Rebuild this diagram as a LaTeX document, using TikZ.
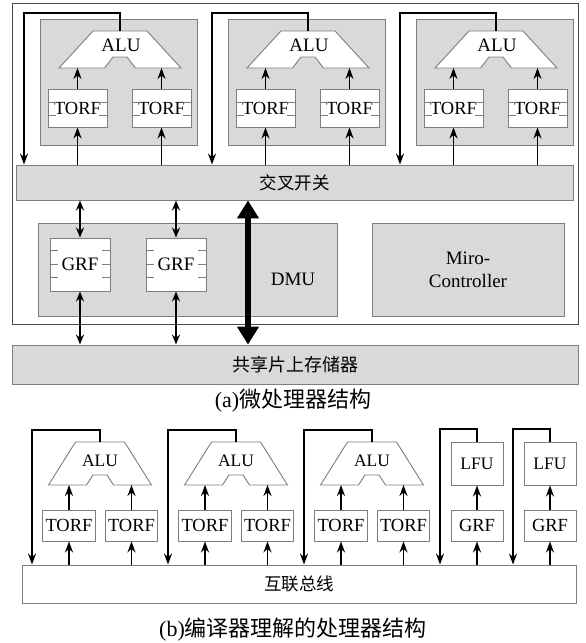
\documentclass[tikz,border=0pt]{standalone}
\usepackage{fontspec}
\setmainfont{Liberation Serif}
\newfontfamily\cjk{Noto Sans CJK SC}
\usetikzlibrary{arrows.meta,calc}
\definecolor{gfill}{RGB}{217,217,217}
\definecolor{bord}{RGB}{125,125,125}
\definecolor{framec}{RGB}{70,70,70}
\tikzset{
  lat/.style={font=\fontsize{19}{23}\selectfont},
  cjkf/.style={font=\cjk\fontsize{17.5}{20}\selectfont},
  capf/.style={font=\fontsize{22}{24}\selectfont},
  regbox/.style={draw=bord, fill=white, line width=0.9pt, inner sep=0pt, font=\fontsize{18.5}{20}\selectfont},
  panel/.style={draw=bord, fill=gfill, line width=0.9pt, inner sep=0pt},
  ghost/.style={inner sep=0pt, outer sep=0pt},
  tick/.style={draw=bord, line width=0.8pt},
  trap/.style={draw=bord, fill=white, line width=0.9pt},
  arr/.style={line width=1.7pt, -{Stealth[length=11pt,width=8pt]}},
  darr/.style={line width=1.5pt, {Stealth[length=10pt,width=8pt]}-{Stealth[length=10pt,width=8pt]}},
  bigarr/.style={line width=6pt, {Triangle[length=18pt,width=21pt]}-{Triangle[length=18pt,width=21pt]}},
}
\begin{document}
\begin{tikzpicture}[x=1pt,y=-1pt]
\useasboundingbox (0,0) rectangle (586,643);
\fill[white] (0,0) rectangle (586,643);

% ---------------- part (a) ----------------
\node[draw=framec, fill=white, line width=1pt, minimum width=566pt, minimum height=321pt, inner sep=0pt] (frameA) at (295,163.5) {};
\node[panel, minimum width=557pt, minimum height=35pt, cjkf] (xbar) at (294.5,182.5) {交叉开关};

\foreach \k/\dx in {1/0,2/188,3/376}{
  \node[panel, minimum width=157pt, minimum height=126pt] (cl\k) at (118.5+\dx,82) {};
  \node[ghost, minimum width=122pt, minimum height=37pt] (alub\k) at (120+\dx,49.5) {};
  \draw[trap] (120+\dx-27,31) -- (120+\dx+27,31) -- (120+\dx+61,68) -- (120+\dx+15.5,68)
     -- (120+\dx+7,57) -- (120+\dx-7,57) -- (120+\dx-15.5,68) -- (120+\dx-61,68) -- cycle;
  \node[lat] (alut\k) at (121+\dx,45.5) {ALU};
  \node[regbox, minimum width=59pt, minimum height=38pt] (ta\k) at (77.5+\dx,108) {TORF};
  \node[regbox, minimum width=59pt, minimum height=38pt] (tb\k) at (161.5+\dx,108) {TORF};
  \foreach \n in {ta\k,tb\k}{
    \foreach \f in {0.35,0.7}{
      \draw[tick] ($(\n.north west)!\f!(\n.south west)$) -- ++(8,0);
      \draw[tick] ($(\n.north east)!\f!(\n.south east)$) -- ++(-8,0);
    }
    \draw[arr] (xbar.north -| \n) -- (\n.south);
    \draw[arr] (\n.north) -- (\n.north |- alub\k.south);
  }
  \coordinate (fb\k) at (24+\dx,13);
  \draw[arr] (alub\k.north) |- (fb\k) -- (fb\k |- xbar.north);
}

\node[panel, minimum width=299pt, minimum height=93pt] (dmu) at (187.5,269.5) {};
\node[lat] (dmut) at (293,279) {DMU};
\node[regbox, minimum width=60pt, minimum height=53pt, lat] (g1) at (80,264.5) {GRF};
\node[regbox, minimum width=60pt, minimum height=53pt, lat] (g2) at (176,264.5) {GRF};
\node[panel, minimum width=192pt, minimum height=93pt, align=center, lat] (mc) at (468,269.5) {Miro-\\Controller};
\node[panel, minimum width=566pt, minimum height=39pt, font=\cjk\fontsize{18}{20}\selectfont] (mem) at (295,364.5) {共享片上存储器};

\foreach \n in {g1,g2}{
  \foreach \f in {0.23,0.49,0.74}{
    \draw[tick] ($(\n.north west)!\f!(\n.south west)$) -- ++(8,0);
    \draw[tick] ($(\n.north east)!\f!(\n.south east)$) -- ++(-8,0);
  }
  \draw[darr] (xbar.south -| \n) -- (\n.north);
  \draw[darr] (\n.south) -- (mem.north -| \n);
}
\coordinate (bx) at (248,0);
\draw[bigarr] (xbar.south -| bx) -- (mem.north -| bx);

\node[capf] (capA) at (293,401) {(a){\cjk 微处理器结构}};

% ---------------- part (b) ----------------
\node[regbox, minimum width=554pt, minimum height=38pt, font=\cjk\fontsize{17.5}{20}\selectfont] (bus) at (299,584) {互联总线};

\foreach \k/\dx in {1/0,2/136,3/272}{
  \node[ghost, minimum width=103pt, minimum height=43pt] (balu\k) at (100+\dx,463.5) {};
  \draw[trap] (100+\dx-24.5,442) -- (100+\dx+24.5,442) -- (100+\dx+51.5,485) -- (100+\dx+13.5,485)
     -- (100+\dx+7,475) -- (100+\dx-7,475) -- (100+\dx-13.5,485) -- (100+\dx-51.5,485) -- cycle;
  \node[font=\fontsize{17.5}{20}\selectfont] (balut\k) at (100+\dx,461) {ALU};
  \node[regbox, minimum width=53pt, minimum height=31pt] (bta\k) at (69+\dx,525.5) {TORF};
  \node[regbox, minimum width=52pt, minimum height=31pt] (btb\k) at (131.5+\dx,525.5) {TORF};
  \foreach \n in {bta\k,btb\k}{
    \draw[arr] (bus.north -| \n) -- (\n.south);
    \draw[arr] (\n.north) -- (\n.north |- balu\k.south);
  }
  \coordinate (bfb\k) at (32+\dx,430);
  \draw[arr] (balu\k.north) |- (bfb\k) -- (bfb\k |- bus.north);
}

\foreach \k/\x/\fx in {1/477/440,2/550/513}{
  \node[regbox, minimum width=52pt, minimum height=43pt, font=\fontsize{17.5}{20}\selectfont] (lfu\k) at (\x,463.5) {LFU};
  \node[regbox, minimum width=52pt, minimum height=31pt] (lg\k) at (\x,525.5) {GRF};
  \draw[arr] (bus.north -| lg\k) -- (lg\k.south);
  \draw[arr] (lg\k.north) -- (lfu\k.south);
  \coordinate (lfb\k) at (\fx,429);
  \draw[arr] (lfu\k.north) |- (lfb\k) -- (lfb\k |- bus.north);
}

\node[capf] (capB) at (293,630) {(b){\cjk 编译器理解的处理器结构}};
\end{tikzpicture}
\end{document}
